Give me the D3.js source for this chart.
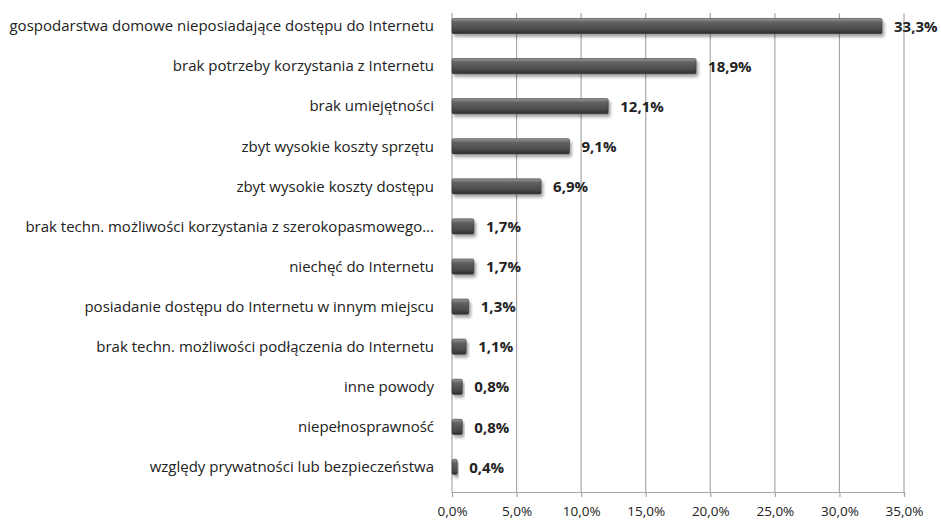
<!DOCTYPE html>
<html>
<head>
<meta charset="utf-8">
<script src="https://cdn.jsdelivr.net/npm/d3@7"></script>
<style>
  body { margin: 0; background: #fff; }
  svg text { font-family: "Open Sans", "Liberation Sans", sans-serif; fill: #222; }
</style>
</head>
<body>
<div id="chart"></div>
<script>
const categories = [
    "gospodarstwa domowe  nieposiadające dostępu do Internetu",
    "brak potrzeby korzystania z Internetu",
    "brak umiejętności",
    "zbyt wysokie  koszty sprzętu",
    "zbyt wysokie  koszty dostępu",
    "brak techn. możliwości korzystania z szerokopasmowego...",
    "niechęć do  Internetu",
    "posiadanie dostępu do Internetu w innym  miejscu",
    "brak techn. możliwości podłączenia do Internetu",
    "inne powody",
    "niepełnosprawność",
    "względy prywatności lub bezpieczeństwa"
];
const values = [33.3, 18.9, 12.1, 9.1, 6.9, 1.7, 1.7, 1.3, 1.1, 0.8, 0.8, 0.4];
const xTicks = [0, 5, 10, 15, 20, 25, 30, 35];

const width = 941, height = 521;
const plotLeft = 452, plotRight = 904, plotTop = 13, plotBottom = 492;

const fmt = v => v.toFixed(1).replace(".", ",") + "%";

const svg = d3.select("#chart").append("svg")
    .attr("width", width)
    .attr("height", height);

const defs = svg.append("defs");
const grad = defs.append("linearGradient")
    .attr("id", "barGrad")
    .attr("x1", 0).attr("y1", 0).attr("x2", 0).attr("y2", 1);
grad.append("stop").attr("offset", "0%").attr("stop-color", "#9a9a9a");
grad.append("stop").attr("offset", "25%").attr("stop-color", "#626262");
grad.append("stop").attr("offset", "70%").attr("stop-color", "#4c4c4c");
grad.append("stop").attr("offset", "100%").attr("stop-color", "#2e2e2e");

const shadow = defs.append("filter").attr("id", "shadow")
    .attr("x", "-10%").attr("y", "-40%").attr("width", "130%").attr("height", "200%");
shadow.append("feDropShadow")
    .attr("dx", 2).attr("dy", 3).attr("stdDeviation", 1.8)
    .attr("flood-color", "#000").attr("flood-opacity", 0.35);

const x = d3.scaleLinear().domain([0, 35]).range([plotLeft, plotRight]);
const y = d3.scaleBand().domain(categories).range([6, 487])
    .paddingInner(0.62).paddingOuter(0.31);

// gridlines
svg.append("g")
    .selectAll("line")
    .data(xTicks)
    .enter().append("line")
    .attr("x1", d => x(d)).attr("x2", d => x(d))
    .attr("y1", plotTop).attr("y2", plotBottom)
    .attr("stroke", "#a8a8a8")
    .attr("stroke-width", 1.2);

// x axis
const xAxis = svg.append("g")
    .attr("transform", `translate(0,${plotBottom})`)
    .call(d3.axisBottom(x).tickValues(xTicks).tickFormat(fmt).tickSize(5).tickPadding(9));
xAxis.select(".domain").attr("stroke", "#a8a8a8").attr("stroke-width", 1.2);
xAxis.selectAll(".tick line").attr("stroke", "#a8a8a8").attr("stroke-width", 1.2);
xAxis.selectAll(".tick text").style("font-size", "13.5px").attr("fill", "#333");

// bars
svg.append("g")
    .selectAll(".bar")
    .data(values)
    .enter().append("rect")
    .attr("class", "bar")
    .attr("x", x(0))
    .attr("y", (d, i) => y(categories[i]))
    .attr("width", d => x(d) - x(0))
    .attr("height", y.bandwidth())
    .attr("rx", 1.5)
    .attr("fill", "url(#barGrad)")
    .attr("stroke", "#3a3a3a")
    .attr("stroke-width", 0.6)
    .attr("filter", "url(#shadow)");

// category labels
svg.append("g")
    .selectAll("text")
    .data(categories)
    .enter().append("text")
    .attr("x", 434)
    .attr("y", d => y(d) + y.bandwidth() / 2)
    .attr("dy", "0.35em")
    .attr("text-anchor", "end")
    .style("font-size", "15px")
    .text(d => d);

// value labels
svg.append("g")
    .selectAll("text")
    .data(values)
    .enter().append("text")
    .attr("x", d => x(d) + 12)
    .attr("y", (d, i) => y(categories[i]) + y.bandwidth() / 2)
    .attr("dy", "0.38em")
    .style("font-size", "15px")
    .style("font-weight", "bold")
    .text(d => fmt(d));
</script>
</body>
</html>
